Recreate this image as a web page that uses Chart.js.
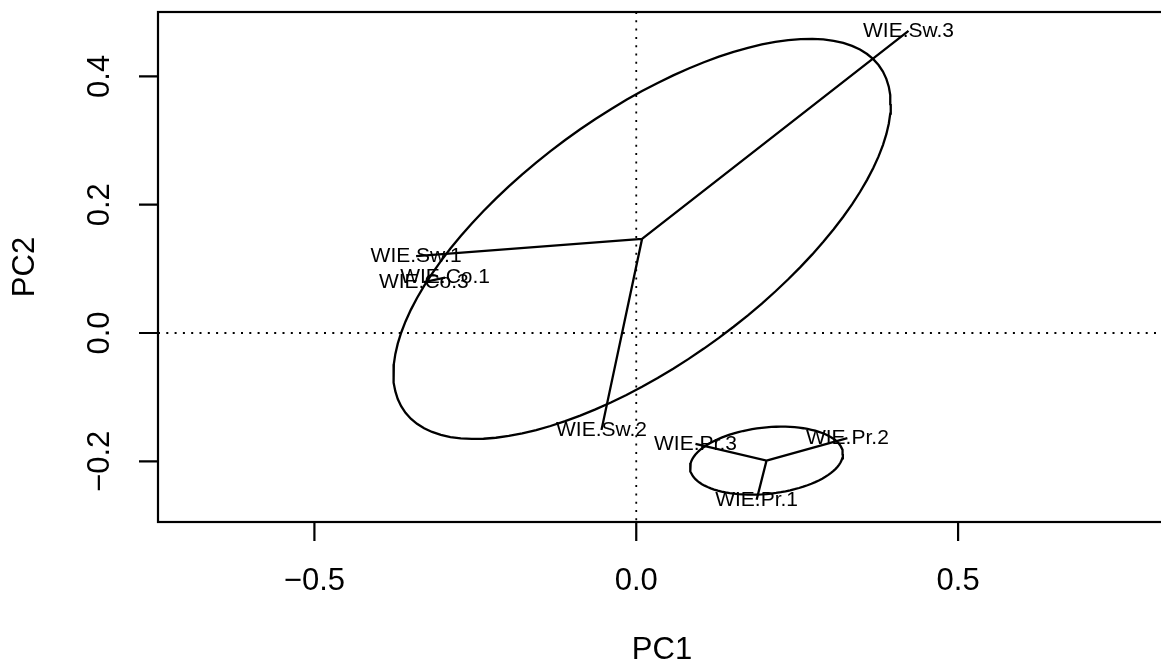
<!DOCTYPE html>
<html>
<head>
<meta charset="utf-8">
<script src="https://cdn.jsdelivr.net/npm/chart.js@4/dist/chart.umd.min.js"></script>
<style>
  html, body { margin: 0; padding: 0; background: #fff; overflow: hidden; }
</style>
</head>
<body>
<canvas id="ordiChart" width="1172" height="668"></canvas>
<script>
// axis ticks
const xTickValues = [-0.5, 0.0, 0.5];
const yTickValues = [-0.2, 0.0, 0.2, 0.4];

// site scores, grouped as in the spiders
const swNames = ['WIE.Sw.1', 'WIE.Sw.2', 'WIE.Sw.3'];
const swPC1 = [-0.342, -0.054, 0.423];
const swPC2 = [0.120, -0.151, 0.471];

const prNames = ['WIE.Pr.1', 'WIE.Pr.2', 'WIE.Pr.3'];
const prPC1 = [0.187, 0.328, 0.092];
const prPC2 = [-0.260, -0.164, -0.173];

const coNames = ['WIE.Co.1', 'WIE.Co.3'];
const coPC1 = [-0.297, -0.330];
const coPC2 = [0.0865, 0.0795];

const FONT = '"Liberation Sans", Arial, Helvetica, sans-serif';

function toPoints(xs, ys) {
    return xs.map((v, i) => ({ x: v, y: ys[i] }));
}

function centroid(pts) {
    const n = pts.length;
    return {
        x: pts.reduce((s, p) => s + p.x, 0) / n,
        y: pts.reduce((s, p) => s + p.y, 0) / n
    };
}

// centroid -> each site, like ordispider
function spider(pts) {
    const c = centroid(pts);
    const out = [];
    pts.forEach(p => { out.push(c, p); });
    return out;
}

// standard deviation ellipse from the group covariance, like ordiellipse(kind = "sd")
function sdEllipse(pts) {
    const c = centroid(pts);
    const n = pts.length;
    let sxx = 0, syy = 0, sxy = 0;
    pts.forEach(p => {
        sxx += (p.x - c.x) * (p.x - c.x);
        syy += (p.y - c.y) * (p.y - c.y);
        sxy += (p.x - c.x) * (p.y - c.y);
    });
    sxx /= (n - 1); syy /= (n - 1); sxy /= (n - 1);
    const a = Math.sqrt(sxx);
    const b = sxy / a;
    const d = Math.sqrt(Math.max(syy - b * b, 0));
    const out = [];
    for (let i = 0; i <= 100; i++) {
        const t = 2 * Math.PI * i / 100;
        out.push({ x: c.x + a * Math.cos(t), y: c.y + b * Math.cos(t) + d * Math.sin(t) });
    }
    return out;
}

const swPts = toPoints(swPC1, swPC2);
const prPts = toPoints(prPC1, prPC2);
const coPts = toPoints(coPC1, coPC2);

const fmt = v => v.toFixed(1).replace('-', '\u2212');

const lineStyle = {
    showLine: true,
    borderColor: '#000',
    borderWidth: 2.3,
    pointRadius: 0,
    tension: 0,
    fill: false
};

const ordiDecor = {
    id: 'ordiDecor',
    beforeDatasetsDraw(chart) {
        const { ctx, chartArea: a, scales: { x, y } } = chart;
        ctx.save();
        ctx.beginPath();
        ctx.rect(a.left, a.top, a.right - a.left, a.bottom - a.top);
        ctx.clip();
        ctx.setLineDash([2, 6.3]);
        ctx.lineWidth = 1.8;
        ctx.strokeStyle = '#000';
        const x0 = x.getPixelForValue(0);
        const y0 = y.getPixelForValue(0);
        ctx.beginPath();
        ctx.moveTo(x0, a.top);
        ctx.lineTo(x0, a.bottom);
        ctx.moveTo(a.left, y0);
        ctx.lineTo(a.right, y0);
        ctx.stroke();
        ctx.restore();
    },
    afterDatasetsDraw(chart) {
        const { ctx, chartArea: a, scales: { x, y } } = chart;
        ctx.save();

        // site labels
        ctx.fillStyle = '#000';
        ctx.font = '21px ' + FONT;
        ctx.textAlign = 'center';
        ctx.textBaseline = 'middle';
        [[swNames, swPts], [prNames, prPts], [coNames, coPts]].forEach(([names, pts]) => {
            pts.forEach((p, i) => {
                ctx.fillText(names[i], x.getPixelForValue(p.x), y.getPixelForValue(p.y));
            });
        });

        // box (its right side falls just outside the window, as in the original)
        ctx.strokeStyle = '#000';
        ctx.lineWidth = 2.2;
        ctx.strokeRect(a.left, a.top, a.right - a.left, a.bottom - a.top);

        // ticks and tick labels
        ctx.font = '31px ' + FONT;
        ctx.beginPath();
        xTickValues.forEach(v => {
            const px = x.getPixelForValue(v);
            ctx.moveTo(px, a.bottom);
            ctx.lineTo(px, a.bottom + 19);
        });
        yTickValues.forEach(v => {
            const py = y.getPixelForValue(v);
            ctx.moveTo(a.left - 19, py);
            ctx.lineTo(a.left, py);
        });
        ctx.stroke();

        xTickValues.forEach(v => {
            ctx.fillText(fmt(v), x.getPixelForValue(v), a.bottom + 59);
        });
        yTickValues.forEach(v => {
            ctx.save();
            ctx.translate(a.left - 58, y.getPixelForValue(v));
            ctx.rotate(-Math.PI / 2);
            ctx.fillText(fmt(v), 0, 0);
            ctx.restore();
        });

        // axis titles
        ctx.fillText('PC1', (a.left + a.right) / 2, a.bottom + 128);
        ctx.save();
        ctx.translate(a.left - 133, (a.top + a.bottom) / 2);
        ctx.rotate(-Math.PI / 2);
        ctx.fillText('PC2', 0, 0);
        ctx.restore();

        ctx.restore();
    }
};

new Chart(document.getElementById('ordiChart'), {
    type: 'scatter',
    data: {
        datasets: [
            Object.assign({ label: 'Sw spider', data: spider(swPts) }, lineStyle),
            Object.assign({ label: 'Pr spider', data: spider(prPts) }, lineStyle),
            Object.assign({ label: 'Co spider', data: spider(coPts) }, lineStyle),
            Object.assign({ label: 'Sw ellipse', data: sdEllipse(swPts) }, lineStyle),
            Object.assign({ label: 'Pr ellipse', data: sdEllipse(prPts) }, lineStyle)
        ]
    },
    options: {
        responsive: false,
        animation: false,
        devicePixelRatio: 1,
        layout: { padding: { left: 158, top: 12, right: 6, bottom: 146 } },
        plugins: {
            legend: { display: false },
            tooltip: { enabled: false }
        },
        scales: {
            x: { type: 'linear', min: -0.743, max: 0.823, display: false },
            y: { type: 'linear', min: -0.2946, max: 0.5004, display: false }
        }
    },
    plugins: [ordiDecor]
});
</script>
</body>
</html>
